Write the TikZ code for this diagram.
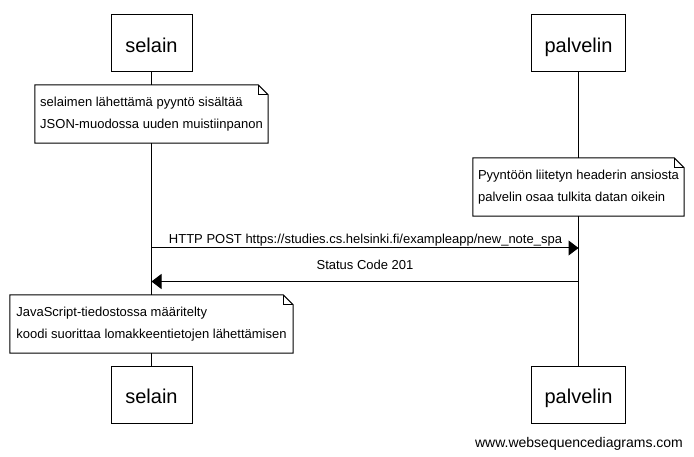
\documentclass[tikz,border=0pt]{standalone}
\usepackage{fontspec}
\setmainfont{Liberation Sans}
\usetikzlibrary{calc,arrows.meta}
\def\foldnote(#1){\draw[line width=1pt] (#1.north west) -- ($(#1.north east)+(-10pt,0pt)$) -- ($(#1.north east)+(0pt,-10pt)$) -- (#1.south east) -- (#1.south west) -- cycle; \draw[line width=1pt] ($(#1.north east)+(-10pt,0pt)$) -- ($(#1.north east)+(-10pt,-10pt)$) -- ($(#1.north east)+(0pt,-10pt)$);}

\begin{document}
\begin{tikzpicture}[x=1pt, y=-1pt,
	actor/.style={draw, line width=1pt, minimum width=#1, minimum height=57pt, inner sep=0pt, font=\fontsize{20}{24}\selectfont, text height=18pt, text depth=0pt},
	notebox/.style={fill=white, minimum width=#1, minimum height=58pt, inner xsep=5pt, inner ysep=0pt, align=left, font=\fontsize{13}{22}\selectfont, execute at begin node={\rule{0pt}{17.5pt}}},
	msg/.style={line width=1pt, -{Triangle[length=10pt,width=15pt]}},
	msglabel/.style={anchor=base, inner sep=0pt, font=\fontsize{13}{16}\selectfont}]
			%%%%% START %%%%%
			
			\useasboundingbox[fill=white] (0, 0) rectangle (694, 457);
			
			\node[actor=81pt] (selainTop) at (151.5, 43.5) {selain};
			\node[actor=94pt] (palvelinTop) at (578.5, 43.5) {palvelin};
			\node[actor=81pt] (selainBottom) at (151.5, 394.5) {selain};
			\node[actor=94pt] (palvelinBottom) at (578.5, 394.5) {palvelin};
			
			\draw[line width=1pt] (selainTop) -- (selainBottom);
			\draw[line width=1pt] (palvelinTop) -- (palvelinBottom);
			
			\node[notebox=233pt] (noteSelain) at (151.5, 114) {selaimen lähettämä pyyntö sisältää\\JSON-muodossa uuden muistiinpanon};
			\foldnote(noteSelain)
			
			\node[notebox=211pt] (notePalvelin) at (578.5, 187) {Pyyntöön liitetyn headerin ansiosta\\palvelin osaa tulkita datan oikein};
			\foldnote(notePalvelin)
			
			\coordinate (postFrom) at (151.5, 248);
			\coordinate (postTo) at (578.5, 248);
			\draw[msg] (postFrom) -- (postTo);
			\node[msglabel] (postLabel) at (365.5, 243.3) {HTTP POST https://studies.cs.helsinki.fi/exampleapp/new\_note\_spa};
			
			\coordinate (statusFrom) at (578.5, 281.5);
			\coordinate (statusTo) at (151.5, 281.5);
			\draw[msg] (statusFrom) -- (statusTo);
			\node[msglabel] (statusLabel) at (365, 270) {Status Code 201};
			
			\node[notebox=283pt] (noteScript) at (151.5, 324) {JavaScript-tiedostossa määritelty\\koodi suorittaa lomakkeentietojen lähettämisen};
			\foldnote(noteScript)
			
			\node[anchor=base, inner sep=0pt, font=\fontsize{14}{16}\selectfont] (wsdLink) at (579, 447) {www.websequencediagrams.com};
			
			%%%%% END %%%%%
\end{tikzpicture}
\end{document}
